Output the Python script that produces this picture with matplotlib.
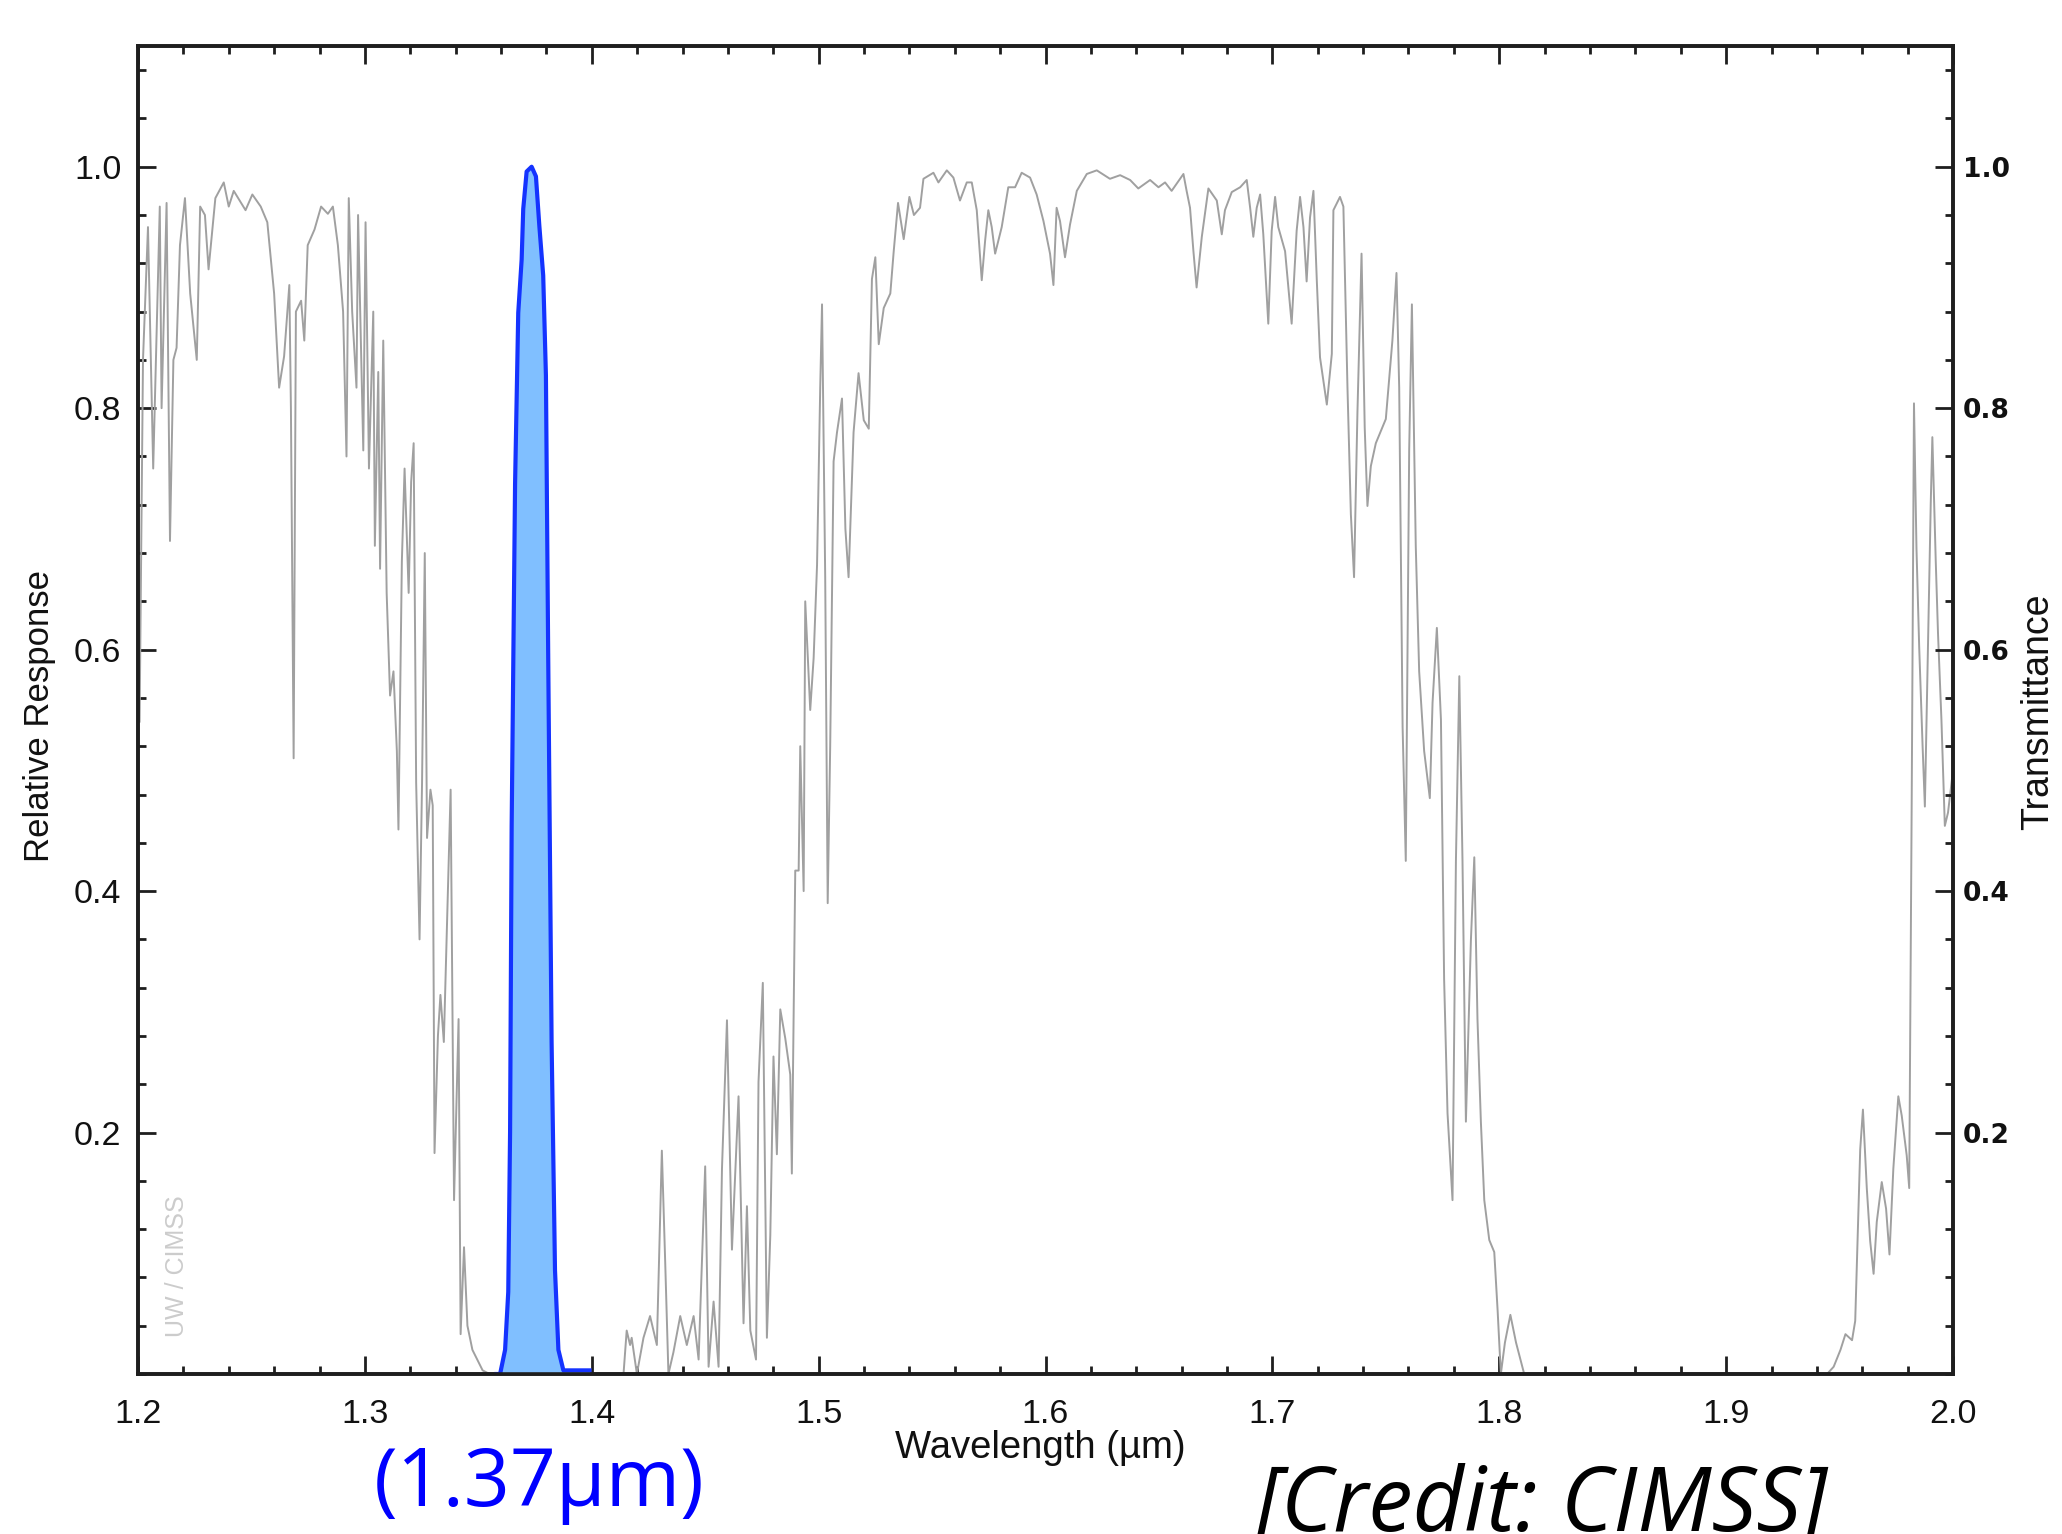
import matplotlib
matplotlib.use("Agg")
import matplotlib.pyplot as plt
from matplotlib.ticker import MultipleLocator, FixedLocator

# ---------------- data ----------------
# atmospheric transmittance (grey curve)
trans_wl = [
    1.2000, 1.2007, 1.2022, 1.2044, 1.2067, 1.2096, 1.2104, 1.2126, 1.2141, 1.2156,
    1.2170, 1.2185, 1.2207, 1.2230, 1.2259, 1.2274, 1.2295, 1.2311, 1.2341, 1.2378,
    1.2400, 1.2422, 1.2474, 1.2504, 1.2541, 1.2570, 1.2600, 1.2622, 1.2644, 1.2667,
    1.2674, 1.2686, 1.2696, 1.2719, 1.2733, 1.2748, 1.2778, 1.2807, 1.2837, 1.2859,
    1.2881, 1.2904, 1.2919, 1.2929, 1.2944, 1.2963, 1.2970, 1.2993, 1.3003, 1.3018,
    1.3037, 1.3044, 1.3059, 1.3067, 1.3081, 1.3096, 1.3111, 1.3126, 1.3141, 1.3148,
    1.3163, 1.3175, 1.3193, 1.3204, 1.3215, 1.3226, 1.3241, 1.3252, 1.3264, 1.3274,
    1.3289, 1.3299, 1.3307, 1.3322, 1.3333, 1.3348, 1.3363, 1.3378, 1.3393, 1.3413,
    1.3422, 1.3437, 1.3452, 1.3474, 1.3519, 1.3550, 1.3800, 1.4000, 1.4140,
    1.4154, 1.4169, 1.4176, 1.4199, 1.4228, 1.4257, 1.4287, 1.4309, 1.4324, 1.4338,
    1.4360, 1.4390, 1.4419, 1.4449, 1.4471, 1.4500, 1.4515, 1.4537, 1.4559, 1.4574,
    1.4596, 1.4618, 1.4647, 1.4669, 1.4684, 1.4699, 1.4724, 1.4735, 1.4754, 1.4772,
    1.4787, 1.4801, 1.4816, 1.4831, 1.4853, 1.4875, 1.4882, 1.4897, 1.4912, 1.4919,
    1.4934, 1.4941, 1.4963, 1.4978, 1.4993, 1.5007, 1.5015, 1.5029, 1.5040, 1.5051,
    1.5066, 1.5081, 1.5103, 1.5118, 1.5132, 1.5154, 1.5176, 1.5199, 1.5221, 1.5235,
    1.5250, 1.5265, 1.5287, 1.5316, 1.5331, 1.5350, 1.5375, 1.5400, 1.5420, 1.5447,
    1.5462, 1.5506, 1.5528, 1.5565, 1.5594, 1.5623, 1.5653, 1.5675, 1.5697, 1.5719,
    1.5734, 1.5748, 1.5763, 1.5778, 1.5807, 1.5836, 1.5866, 1.5895, 1.5932, 1.5961,
    1.5991, 1.6020, 1.6035, 1.6049, 1.6064, 1.6086, 1.6108, 1.6138, 1.6182, 1.6226,
    1.6284, 1.6329, 1.6373, 1.6409, 1.6461, 1.6498, 1.6527, 1.6556, 1.6608, 1.6622,
    1.6637, 1.6652, 1.6666, 1.6689, 1.6718, 1.6755, 1.6777, 1.6791, 1.6821, 1.6858,
    1.6887, 1.6902, 1.6916, 1.6931, 1.6946, 1.6960, 1.6982, 1.6997, 1.7012, 1.7026,
    1.7056, 1.7085, 1.7107, 1.7122, 1.7137, 1.7151, 1.7166, 1.7181, 1.7196, 1.7210,
    1.7240, 1.7262, 1.7269, 1.7298, 1.7313, 1.7331, 1.7346, 1.7360, 1.7375, 1.7393,
    1.7407, 1.7419, 1.7434, 1.7456, 1.7500, 1.7529, 1.7547, 1.7559, 1.7574, 1.7588,
    1.7603, 1.7615, 1.7632, 1.7647, 1.7669, 1.7694, 1.7706, 1.7725, 1.7743, 1.7757,
    1.7772, 1.7794, 1.7809, 1.7824, 1.7838, 1.7853, 1.7875, 1.7890, 1.7904, 1.7919,
    1.7934, 1.7956, 1.7978, 1.7993, 1.8007, 1.8025, 1.8049, 1.8074, 1.8110, 1.8500,
    1.9000, 1.9445, 1.9474, 1.9504, 1.9526, 1.9555, 1.9569, 1.9580, 1.9591, 1.9603,
    1.9620, 1.9635, 1.9650, 1.9664, 1.9686, 1.9705, 1.9720, 1.9737, 1.9759, 1.9774,
    1.9796, 1.9807, 1.9818, 1.9828, 1.9839, 1.9851, 1.9866, 1.9876, 1.9891, 1.9902,
    1.9909, 1.9924, 1.9934, 1.9949, 1.9964, 1.9978, 2.0000,
]
trans_val = [
    0.700, 0.540, 0.840, 0.950, 0.750, 0.967, 0.800, 0.970, 0.690, 0.840,
    0.850, 0.935, 0.974, 0.895, 0.840, 0.967, 0.960, 0.915, 0.974, 0.987,
    0.967, 0.980, 0.964, 0.977, 0.967, 0.954, 0.895, 0.817, 0.843, 0.902,
    0.800, 0.510, 0.880, 0.889, 0.856, 0.935, 0.948, 0.967, 0.961, 0.967,
    0.935, 0.880, 0.760, 0.974, 0.880, 0.817, 0.960, 0.765, 0.954, 0.750,
    0.880, 0.686, 0.830, 0.667, 0.856, 0.647, 0.562, 0.582, 0.516, 0.451,
    0.673, 0.750, 0.647, 0.739, 0.771, 0.490, 0.360, 0.490, 0.680, 0.444,
    0.484, 0.471, 0.183, 0.280, 0.314, 0.275, 0.380, 0.484, 0.144, 0.294,
    0.033, 0.105, 0.040, 0.020, 0.003, 0.000, 0.000, 0.000, 0.000,
    0.036, 0.024, 0.030, 0.000, 0.030, 0.048, 0.024, 0.185, 0.091, 0.000,
    0.018, 0.048, 0.024, 0.048, 0.012, 0.172, 0.006, 0.060, 0.006, 0.170,
    0.293, 0.103, 0.230, 0.042, 0.139, 0.036, 0.012, 0.242, 0.324, 0.030,
    0.115, 0.263, 0.182, 0.302, 0.278, 0.248, 0.166, 0.417, 0.417, 0.520,
    0.400, 0.640, 0.550, 0.593, 0.670, 0.817, 0.886, 0.660, 0.390, 0.520,
    0.756, 0.780, 0.808, 0.700, 0.660, 0.780, 0.829, 0.790, 0.783, 0.907,
    0.925, 0.853, 0.883, 0.895, 0.930, 0.970, 0.940, 0.975, 0.960, 0.966,
    0.990, 0.995, 0.987, 0.997, 0.991, 0.972, 0.987, 0.987, 0.964, 0.906,
    0.939, 0.964, 0.950, 0.928, 0.950, 0.983, 0.983, 0.995, 0.991, 0.977,
    0.955, 0.928, 0.902, 0.966, 0.955, 0.925, 0.952, 0.980, 0.994, 0.997,
    0.990, 0.993, 0.989, 0.982, 0.989, 0.983, 0.987, 0.980, 0.994, 0.980,
    0.966, 0.930, 0.900, 0.942, 0.982, 0.972, 0.944, 0.964, 0.979, 0.983,
    0.989, 0.966, 0.942, 0.966, 0.977, 0.944, 0.870, 0.947, 0.975, 0.950,
    0.930, 0.870, 0.947, 0.975, 0.950, 0.905, 0.958, 0.980, 0.905, 0.842,
    0.803, 0.845, 0.964, 0.975, 0.967, 0.817, 0.712, 0.660, 0.797, 0.928,
    0.784, 0.719, 0.752, 0.771, 0.791, 0.856, 0.912, 0.817, 0.536, 0.425,
    0.765, 0.886, 0.686, 0.582, 0.516, 0.477, 0.556, 0.618, 0.542, 0.327,
    0.216, 0.144, 0.425, 0.578, 0.425, 0.209, 0.359, 0.428, 0.294, 0.209,
    0.144, 0.111, 0.101, 0.052, 0.000, 0.026, 0.049, 0.026, 0.000, 0.000,
    0.000, 0.000, 0.006, 0.020, 0.033, 0.028, 0.044, 0.115, 0.186, 0.219,
    0.154, 0.110, 0.083, 0.126, 0.159, 0.137, 0.099, 0.170, 0.230, 0.214,
    0.181, 0.154, 0.476, 0.804, 0.684, 0.602, 0.520, 0.470, 0.618, 0.722,
    0.776, 0.673, 0.613, 0.542, 0.454, 0.465, 0.500,
]

# spectral response function of the 1.37 um band (blue)
srf_wl = [1.3580, 1.3596, 1.3618, 1.3632, 1.3640, 1.3647, 1.3662, 1.3676, 1.3691,
          1.3698, 1.3713, 1.3735, 1.3754, 1.3769, 1.3786, 1.3798, 1.3808, 1.3823,
          1.3838, 1.3853, 1.3875, 1.3990]
srf_val = [0.000, 0.000, 0.020, 0.068, 0.200, 0.454, 0.737, 0.879, 0.923,
           0.965, 0.996, 1.000, 0.992, 0.951, 0.910, 0.827, 0.596, 0.275,
           0.086, 0.020, 0.003, 0.003]

x_ticks = [1.2, 1.3, 1.4, 1.5, 1.6, 1.7, 1.8, 1.9, 2.0]
x_ticklabels = ["1.2", "1.3", "1.4", "1.5", "1.6", "1.7", "1.8", "1.9", "2.0"]
y_ticks = [0.2, 0.4, 0.6, 0.8, 1.0]
y_ticklabels = ["0.2", "0.4", "0.6", "0.8", "1.0"]

# ---------------- figure ----------------
W, H = 2062, 1534
fig = plt.figure(figsize=(W / 100, H / 100), dpi=100)
fig.patch.set_facecolor("white")

ax = fig.add_axes([138 / W, 1 - 1374 / H, 1815 / W, (1374 - 46) / H])
ax.set_xlim(1.2, 2.0)
ax.set_ylim(0.0, 1.1)

ax.plot(trans_wl, trans_val, color="#a0a0a0", lw=1.4, zorder=2)
ax.fill_between(srf_wl, 0, srf_val, color="#80bfff", lw=0, zorder=3)
ax.plot(srf_wl, srf_val, color="#1433ff", lw=3.0, zorder=4)

label_font = ["Liberation Sans", "DejaVu Sans"]
narrow_font = ["Liberation Sans Narrow", "DejaVu Sans Condensed", "Liberation Sans", "DejaVu Sans"]

for sp in ax.spines.values():
    sp.set_linewidth(2.6)
    sp.set_color("#1e1e1e")

ax.xaxis.set_major_locator(FixedLocator(x_ticks))
ax.set_xticklabels(x_ticklabels, fontsize=24.5, family=label_font, color="#111111")
ax.xaxis.set_minor_locator(MultipleLocator(0.02))
ax.yaxis.set_major_locator(FixedLocator(y_ticks))
ax.set_yticklabels(y_ticklabels, fontsize=24.5, family=label_font, color="#111111")
ax.yaxis.set_minor_locator(MultipleLocator(0.04))

ax.tick_params(axis="x", which="both", direction="in", top=True, bottom=True,
               color="#1e1e1e", width=2.0)
ax.tick_params(axis="x", which="major", length=13, pad=18)
ax.tick_params(axis="x", which="minor", length=6)
ax.tick_params(axis="y", which="both", direction="in", left=True, right=False,
               color="#1e1e1e", width=2.0)
ax.tick_params(axis="y", which="major", length=13, pad=12)
ax.tick_params(axis="y", which="minor", length=6)

ax2 = ax.twinx()
ax2.set_ylim(0.0, 1.1)
ax2.yaxis.set_major_locator(FixedLocator(y_ticks))
ax2.set_yticklabels(y_ticklabels, fontsize=19, fontweight="bold", family=["DejaVu Sans"],
                    color="#111111")
ax2.yaxis.set_minor_locator(MultipleLocator(0.04))
ax2.tick_params(axis="y", which="both", direction="in", color="#1e1e1e", width=2.0)
ax2.tick_params(axis="y", which="major", length=13, pad=7)
ax2.tick_params(axis="y", which="minor", length=6)
for sp in ax2.spines.values():
    sp.set_linewidth(2.6)
    sp.set_color("#1e1e1e")

# axis titles
fig.text(40 / W, 1 - 716 / H, "Relative Response", rotation=90, ha="center", va="center",
         fontsize=25, family=label_font, color="#111111")
fig.text(2038 / W, 1 - 712 / H, "Transmittance", rotation=90, ha="center", va="center",
         fontsize=27, family=narrow_font, color="#111111")
fig.text(1040 / W, 1 - 1448 / H, "Wavelength (\u00b5m)", ha="center", va="center",
         fontsize=27.5, family=label_font, color="#111111")

# watermark
ax.text(0.0215, 0.028, "UW / CIMSS", transform=ax.transAxes, rotation=90,
        ha="center", va="bottom", fontsize=18, family=narrow_font, color="#cccccc")

# annotations
fig.text(539 / W, 1 - 1506 / H, "(1.37\u00b5m)", ha="center", va="baseline",
         fontsize=58, family=["Open Sans", "DejaVu Sans"], color="#0000ff")
fig.text(1542 / W, 1 - 1531 / H, "[Credit: CIMSS]", ha="center", va="baseline",
         fontsize=64, style="italic", family=["Open Sans", "DejaVu Sans"], color="black")

fig.savefig("out.png", dpi=100, facecolor="white")
